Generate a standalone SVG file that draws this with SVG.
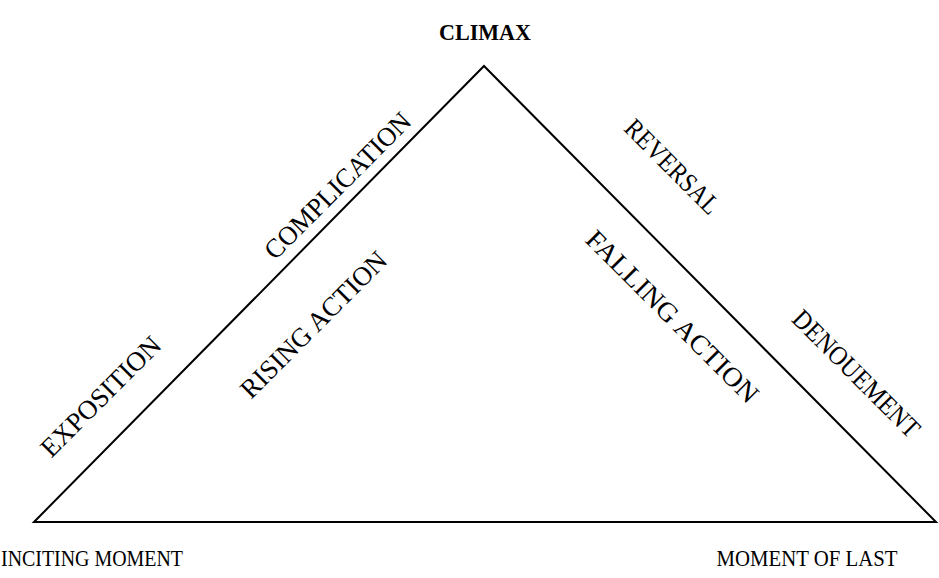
<svg xmlns="http://www.w3.org/2000/svg" width="939" height="578" viewBox="0 0 939 578">
<style>
text{font-family:"Liberation Serif","DejaVu Serif",serif;font-size:24px;fill:#000;text-anchor:middle}
.r{font-size:27px}
.b{font-weight:bold;font-size:23px}
.s{fill:none;stroke:#000;stroke-width:2}
</style>
<rect width="939" height="578" fill="#fff"/>
<g id="connectors">
<path class="s" d="M34,522 L484,66 L936,522 Z"/>
</g>
<g id="climax"><text class="b" x="485" y="40" textLength="92" lengthAdjust="spacingAndGlyphs">CLIMAX</text></g>
<g id="exposition"><text class="r" transform="translate(107,403) rotate(-45)" textLength="158" lengthAdjust="spacingAndGlyphs">EXPOSITION</text></g>
<g id="complication"><text class="r" transform="translate(344,192) rotate(-45)" textLength="195" lengthAdjust="spacingAndGlyphs">COMPLICATION</text></g>
<g id="rising"><text class="r" transform="translate(320,331) rotate(-45)" textLength="195" lengthAdjust="spacingAndGlyphs">RISING ACTION</text></g>
<g id="reversal"><text class="r" transform="translate(666,173) rotate(45)" textLength="122" lengthAdjust="spacingAndGlyphs">REVERSAL</text></g>
<g id="falling"><text class="r" transform="translate(666,323) rotate(45)" textLength="232" lengthAdjust="spacingAndGlyphs">FALLING ACTION</text></g>
<g id="denouement"><text class="r" transform="translate(850,380) rotate(45)" textLength="168" lengthAdjust="spacingAndGlyphs">DENOUEMENT</text></g>
<g id="inciting"><text x="92" y="566" textLength="182" lengthAdjust="spacingAndGlyphs">INCITING MOMENT</text></g>
<g id="lastmoment"><text x="807" y="566" textLength="181" lengthAdjust="spacingAndGlyphs">MOMENT OF LAST</text></g>
</svg>
